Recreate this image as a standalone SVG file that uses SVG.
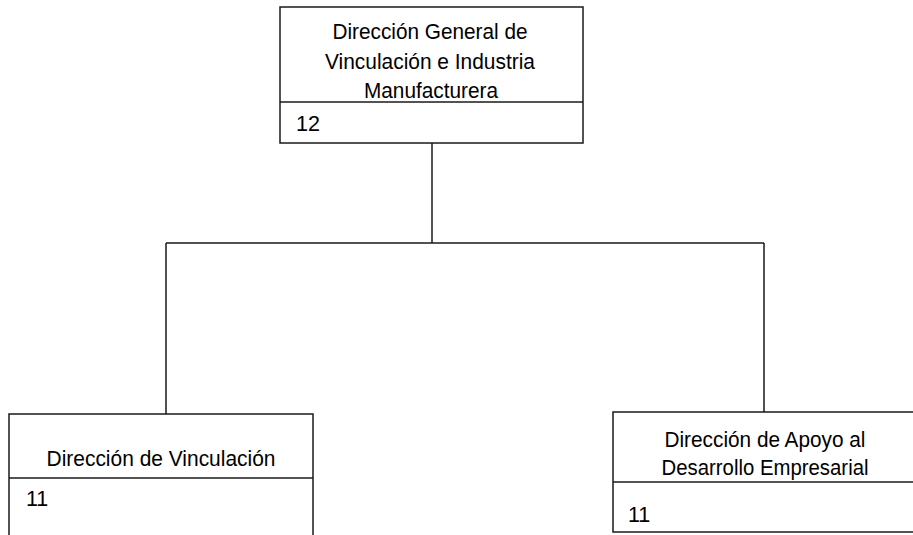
<svg xmlns="http://www.w3.org/2000/svg" width="913" height="535" viewBox="0 0 913 535">
<style>
.box{fill:#fff;stroke:#1a1a1a;stroke-width:1.5}
.ln{stroke:#1a1a1a;stroke-width:1.5;fill:none}
.t{font-family:"Liberation Sans",Arial,sans-serif;font-size:21.5px;fill:#000}
.c{text-anchor:middle}
</style>
<rect width="913" height="535" fill="#fff"/>
<g id="connectors" class="ln">
<path d="M432 143V243M166 243H764M166 243V414M764 243V412"/>
</g>
<g id="n-general">
<rect class="box" x="280" y="7" width="303" height="136"/>
<line class="ln" x1="280" y1="102" x2="583" y2="102"/>
<text class="t c" x="430" y="39" textLength="195" lengthAdjust="spacingAndGlyphs">Dirección General de</text>
<text class="t c" x="430" y="69" textLength="210" lengthAdjust="spacingAndGlyphs">Vinculación e Industria</text>
<text class="t c" x="431" y="98" textLength="134" lengthAdjust="spacingAndGlyphs">Manufacturera</text>
<text class="t" x="296" y="131">12</text>
</g>
<g id="n-vinculacion">
<rect class="box" x="9" y="414" width="304" height="140"/>
<line class="ln" x1="9" y1="478" x2="313" y2="478"/>
<text class="t c" x="161" y="466" textLength="229" lengthAdjust="spacingAndGlyphs">Dirección de Vinculación</text>
<text class="t" x="26" y="506">11</text>
</g>
<g id="n-apoyo">
<rect class="box" x="613" y="412" width="320" height="120"/>
<line class="ln" x1="613" y1="482" x2="913" y2="482"/>
<text class="t c" x="765" y="447" textLength="201" lengthAdjust="spacingAndGlyphs">Dirección de Apoyo al</text>
<text class="t c" x="765" y="475" textLength="207" lengthAdjust="spacingAndGlyphs">Desarrollo Empresarial</text>
<text class="t" x="628" y="522">11</text>
</g>
</svg>
